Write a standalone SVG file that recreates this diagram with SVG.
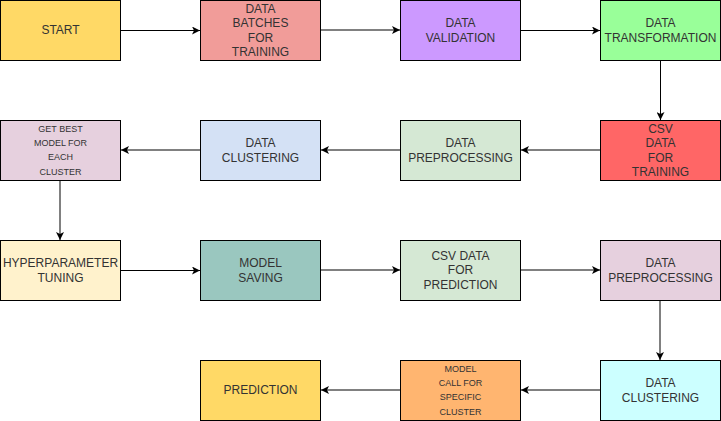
<svg xmlns="http://www.w3.org/2000/svg" width="721" height="421" viewBox="0 0 721 421">
<style>
.box{stroke:#000;stroke-width:1}
.t{font-family:"Liberation Sans",Arial,sans-serif;font-size:12px;fill:#333;text-anchor:middle}
.s{font-family:"Liberation Sans",Arial,sans-serif;font-size:9px;fill:#333;text-anchor:middle}
.cb{stroke:#000;stroke-width:1;fill:none}
.cg{stroke:#808080;stroke-width:2;fill:none}
</style>
<defs>
<marker id="ah" markerUnits="userSpaceOnUse" viewBox="0 0 8 8" refX="8" refY="4" markerWidth="8" markerHeight="8" orient="auto">
<path d="M0,0 L8,4 L0,8 L2,4 Z" fill="#000"/>
</marker>
</defs>
<rect width="721" height="421" fill="#fff"/>
<g id="connectors">
<path class="cb" d="M120.5,30.5 H200" marker-end="url(#ah)"/>
<path class="cg" d="M320.5,30 H400" marker-end="url(#ah)"/>
<path class="cb" d="M520.5,30.5 H600" marker-end="url(#ah)"/>
<path class="cb" d="M660.5,60.5 V120" marker-end="url(#ah)"/>
<path class="cg" d="M600,150 H521" marker-end="url(#ah)"/>
<path class="cg" d="M400,150 H321" marker-end="url(#ah)"/>
<path class="cg" d="M200,150 H121" marker-end="url(#ah)"/>
<path class="cg" d="M60,181 V240" marker-end="url(#ah)"/>
<path class="cb" d="M120.5,270.5 H200" marker-end="url(#ah)"/>
<path class="cg" d="M320.5,270 H400" marker-end="url(#ah)"/>
<path class="cg" d="M520.5,270 H600" marker-end="url(#ah)"/>
<path class="cg" d="M660,301 V360" marker-end="url(#ah)"/>
<path class="cg" d="M600,390 H521" marker-end="url(#ah)"/>
<path class="cg" d="M400,390 H321" marker-end="url(#ah)"/>
</g>
<g id="start"><rect class="box" x="0.5" y="0.5" width="120" height="60" fill="#FFD966"/><text class="t" x="60.5" y="34.3">START</text></g>
<g id="data-batches"><rect class="box" x="200.5" y="0.5" width="120" height="60" fill="#F19C99"/><text class="t" x="260.5"><tspan x="260.5" y="12.7">DATA</tspan><tspan x="260.5" y="27.1">BATCHES</tspan><tspan x="260.5" y="41.5">FOR</tspan><tspan x="260.5" y="55.9">TRAINING</tspan></text></g>
<g id="data-validation"><rect class="box" x="400.5" y="0.5" width="120" height="60" fill="#CC99FF"/><text class="t"><tspan x="460.5" y="27.1">DATA</tspan><tspan x="460.5" y="41.5">VALIDATION</tspan></text></g>
<g id="data-transformation"><rect class="box" x="600.5" y="0.5" width="120" height="60" fill="#99FF99"/><text class="t"><tspan x="660.5" y="27.1">DATA</tspan><tspan x="660.5" y="41.5">TRANSFORMATION</tspan></text></g>
<g id="csv-training"><rect class="box" x="600.5" y="120.5" width="120" height="60" fill="#FF6666"/><text class="t"><tspan x="660.5" y="132.7">CSV</tspan><tspan x="660.5" y="147.1">DATA</tspan><tspan x="660.5" y="161.5">FOR</tspan><tspan x="660.5" y="175.9">TRAINING</tspan></text></g>
<g id="data-preprocessing-1"><rect class="box" x="400.5" y="120.5" width="120" height="60" fill="#D5E8D4"/><text class="t"><tspan x="460.5" y="147.1">DATA</tspan><tspan x="460.5" y="161.5">PREPROCESSING</tspan></text></g>
<g id="data-clustering-1"><rect class="box" x="200.5" y="120.5" width="120" height="60" fill="#D4E1F5"/><text class="t"><tspan x="260.5" y="147.1">DATA</tspan><tspan x="260.5" y="161.5">CLUSTERING</tspan></text></g>
<g id="get-best-model"><rect class="box" x="0.5" y="120.5" width="120" height="60" fill="#E6D0DE"/><text class="s"><tspan x="60.5" y="131.6">GET BEST</tspan><tspan x="60.5" y="146">MODEL FOR</tspan><tspan x="60.5" y="160.4">EACH</tspan><tspan x="60.5" y="174.8">CLUSTER</tspan></text></g>
<g id="hyperparameter-tuning"><rect class="box" x="0.5" y="240.5" width="120" height="60" fill="#FFF2CC"/><text class="t"><tspan x="60.5" y="267.1">HYPERPARAMETER</tspan><tspan x="60.5" y="281.5">TUNING</tspan></text></g>
<g id="model-saving"><rect class="box" x="200.5" y="240.5" width="120" height="60" fill="#9AC7BF"/><text class="t"><tspan x="260.5" y="267.1">MODEL</tspan><tspan x="260.5" y="281.5">SAVING</tspan></text></g>
<g id="csv-prediction"><rect class="box" x="400.5" y="240.5" width="120" height="60" fill="#D5E8D4"/><text class="t"><tspan x="460.5" y="259.9">CSV DATA</tspan><tspan x="460.5" y="274.3">FOR</tspan><tspan x="460.5" y="288.7">PREDICTION</tspan></text></g>
<g id="data-preprocessing-2"><rect class="box" x="600.5" y="240.5" width="120" height="60" fill="#E6D0DE"/><text class="t"><tspan x="660.5" y="267.1">DATA</tspan><tspan x="660.5" y="281.5">PREPROCESSING</tspan></text></g>
<g id="data-clustering-2"><rect class="box" x="600.5" y="360.5" width="120" height="60" fill="#CCFFFF"/><text class="t"><tspan x="660.5" y="387.1">DATA</tspan><tspan x="660.5" y="401.5">CLUSTERING</tspan></text></g>
<g id="model-call"><rect class="box" x="400.5" y="360.5" width="120" height="60" fill="#FFB570"/><text class="s"><tspan x="460.5" y="371.6">MODEL</tspan><tspan x="460.5" y="386">CALL FOR</tspan><tspan x="460.5" y="400.4">SPECIFIC</tspan><tspan x="460.5" y="414.8">CLUSTER</tspan></text></g>
<g id="prediction"><rect class="box" x="200.5" y="360.5" width="120" height="60" fill="#FFD966"/><text class="t" x="260.5" y="394.3">PREDICTION</text></g>
</svg>
